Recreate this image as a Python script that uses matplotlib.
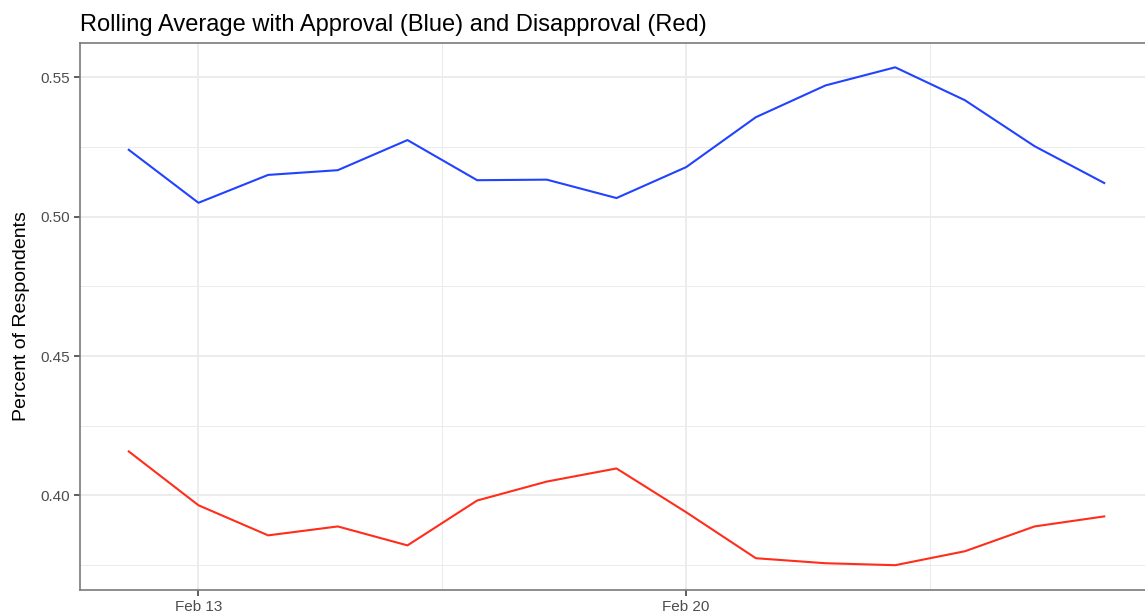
import matplotlib
matplotlib.use("Agg")
import matplotlib.pyplot as plt
import matplotlib.dates as mdates
import pandas as pd

plt.rcParams["font.family"] = ["Liberation Sans", "DejaVu Sans"]

# rolling averages, Feb 12 - Feb 26
dates = pd.date_range("2021-02-12", "2021-02-26", freq="D")
approval = [0.524, 0.505, 0.515, 0.5167, 0.5275, 0.5131, 0.5133, 0.5067,
            0.5178, 0.5357, 0.5471, 0.5536, 0.5418, 0.5253, 0.5121]
disapproval = [0.4158, 0.3965, 0.3857, 0.3889, 0.3821, 0.3982, 0.4050, 0.4097,
               0.3940, 0.3775, 0.3757, 0.3750, 0.3800, 0.3889, 0.3925]
ytick_vals = [0.40, 0.45, 0.50, 0.55]
ytick_labels = ["0.40", "0.45", "0.50", "0.55"]

W, H = 1145, 615
fig = plt.figure(figsize=(W / 100, H / 100), dpi=100)
ax = fig.add_axes([80 / W, 1 - 590 / H, 1073 / W, (590 - 42.5) / H])

ax.plot(dates, approval, color="#2142ff", lw=1.5)
ax.plot(dates, disapproval, color="#ff2d1a", lw=1.5)

x0 = mdates.date2num(dates[0]); x1 = mdates.date2num(dates[-1])
ax.set_xlim(x0 - 0.7, x1 + 0.7)
ax.set_ylim(0.3661, 0.5625)

ax.set_xticks(mdates.date2num(pd.to_datetime(["2021-02-13", "2021-02-20"])))
ax.xaxis.set_major_formatter(mdates.DateFormatter("%b %d"))
ax.set_xticks(mdates.date2num(pd.to_datetime(["2021-02-16 12:00", "2021-02-23 12:00"])), minor=True)
ax.set_yticks(ytick_vals)
ax.set_yticklabels(ytick_labels)
ax.set_yticks([0.375, 0.425, 0.475, 0.525], minor=True)

ax.grid(which="major", color="#ebebeb", lw=1.3)
ax.grid(which="minor", color="#ebebeb", lw=0.7)
ax.set_axisbelow(True)
ax.tick_params(which="major", length=4, width=1.1, color="#333333",
               labelsize=11, labelcolor="#4d4d4d", pad=3)
ax.tick_params(which="minor", length=0)
for s in ax.spines.values():
    s.set_color("#7a7a7a")
    s.set_linewidth(1.2)

ax.set_ylabel("Percent of Respondents", fontsize=14, color="black", labelpad=8)
ax.set_title("Rolling Average with Approval (Blue) and Disapproval (Red)",
             loc="left", fontsize=17, color="black", pad=8)

fig.savefig("out.png", dpi=100, facecolor="white")
